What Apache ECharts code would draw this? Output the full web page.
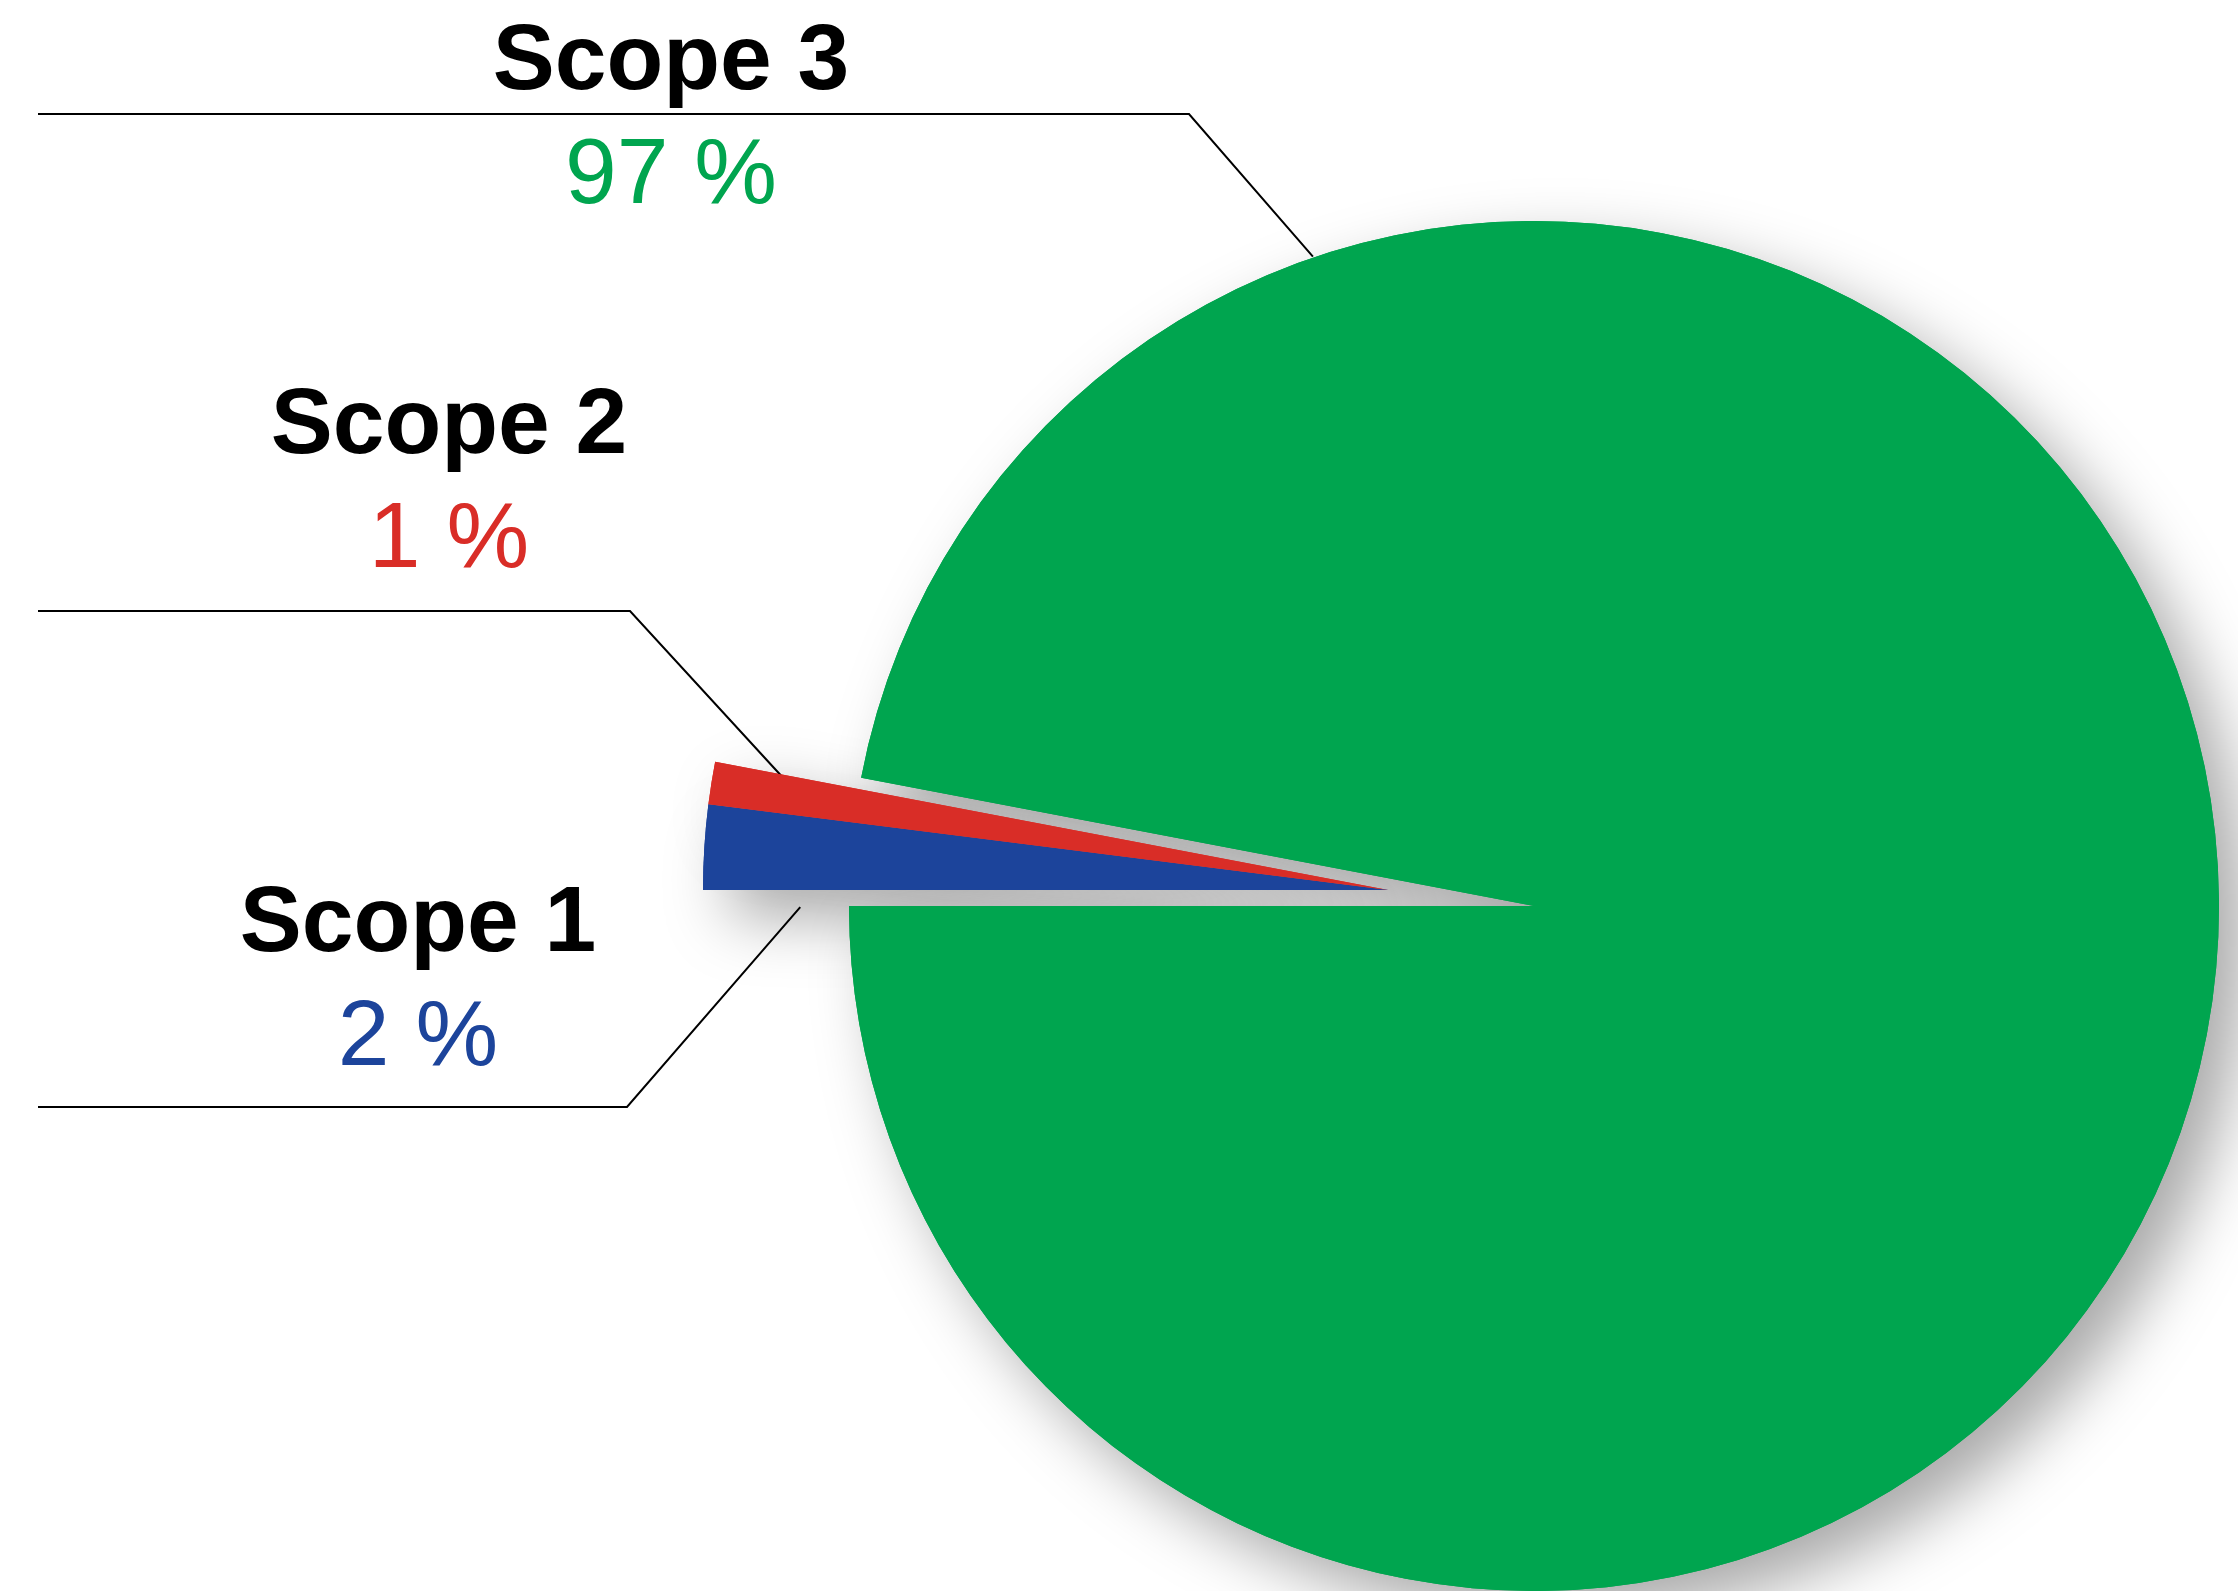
<!DOCTYPE html>
<html>
<head>
<meta charset="utf-8">
<title>Scope 1 / 2 / 3</title>
<script src="https://cdn.jsdelivr.net/npm/echarts@6/dist/echarts.min.js"></script>
<style>
  html, body { margin: 0; padding: 0; background: #fff; }
  #chart { width: 2238px; height: 1591px; }
</style>
</head>
<body>
<div id="chart"></div>
<script>
// 数据
const categories = ['Scope 1', 'Scope 2', 'Scope 3'];
const shares = [2, 1, 97];
const colors = ['#1c449b', '#d92d27', '#00a54f'];

const FONT = '"Liberation Sans", Arial, Helvetica, sans-serif';
const R = 685;
const mainCenter = [1534, 906];
const smallCenter = [1388, 890]; // 拉出来的两个小扇区
const clear = 'rgba(0,0,0,0)';

// 标签位置: 文字中心, 引导线 (锚点用极坐标, 拐点, 终点)
const labelPos = [
  { x: 418, y: 982, anchor: [smallCenter, 181.66, 588], elbow: [627, 1107], end: [38, 1107] },
  { x: 449, y: 484, anchor: [smallCenter, 169.3, 618], elbow: [630, 611], end: [38, 611] },
  { x: 671, y: 120, anchor: [mainCenter, 108.8, 686], elbow: [1189, 114], end: [38, 114] }
];

function polar (c, deg, d) {
  const a = deg * Math.PI / 180;
  return [c[0] + d * Math.cos(a), c[1] - d * Math.sin(a)];
}

const rich = {
  n: { fontFamily: FONT, fontSize: 93, fontWeight: 'bold', color: '#000', lineHeight: 114 }
};
categories.forEach((c, i) => {
  rich['v' + i] = { fontFamily: FONT, fontSize: 93, color: colors[i], lineHeight: 114 };
});

// 阴影: 所有阴影画在所有扇区下面
const shadow = { shadowBlur: 64, shadowColor: 'rgba(0,0,0,0.34)', shadowOffsetX: 27, shadowOffsetY: 27 };
const noLabel = { label: { show: false }, labelLine: { show: false } };

function shadowItem (i) {
  return Object.assign({
    name: categories[i],
    value: shares[i],
    itemStyle: Object.assign({ color: colors[i] }, shadow)
  }, noLabel);
}

function item (i) {
  return {
    name: categories[i],
    value: shares[i],
    itemStyle: { color: colors[i] },
    label: {
      show: true,
      position: 'outside',
      formatter: '{n|' + categories[i] + '}\n{v' + i + '|' + shares[i] + ' %}',
      rich: rich
    },
    labelLine: { show: true, smooth: false, lineStyle: { color: '#000', width: 2 } }
  };
}

function blank (name, value) {
  return Object.assign({ name: name, value: value, itemStyle: { color: clear } }, noLabel);
}

// dataIndex -> 类别下标
function layoutFor (map) {
  return function (params) {
    const p = labelPos[map[params.dataIndex]];
    if (!p) return {};
    return {
      x: p.x,
      y: p.y,
      align: 'center',
      verticalAlign: 'middle',
      labelLinePoints: [polar(p.anchor[0], p.anchor[1], p.anchor[2]), p.elbow, p.end]
    };
  };
}

const smallSum = shares[0] + shares[1];
const base = {
  type: 'pie',
  radius: R,
  startAngle: 180,
  clockwise: true,
  avoidLabelOverlap: false,
  silent: true,
  emphasis: { disabled: true },
  animation: false
};

const chart = echarts.init(document.getElementById('chart'));
chart.setOption({
  backgroundColor: '#fff',
  animation: false,
  series: [
    // 阴影层
    Object.assign({}, base, {
      z: 1,
      center: mainCenter,
      data: [blank('gap', smallSum), shadowItem(2)]
    }),
    Object.assign({}, base, {
      z: 1,
      center: smallCenter,
      data: [shadowItem(0), shadowItem(1), blank('rest', shares[2])]
    }),
    // Scope 3
    Object.assign({}, base, {
      z: 2,
      center: mainCenter,
      labelLayout: layoutFor({ 1: 2 }),
      data: [blank('gap', smallSum), item(2)]
    }),
    // Scope 1 + Scope 2, 整体拉出
    Object.assign({}, base, {
      z: 3,
      center: smallCenter,
      labelLayout: layoutFor({ 0: 0, 1: 1 }),
      data: [item(0), item(1), blank('rest', shares[2])]
    })
  ]
});
window.onresize = chart.resize;
</script>
</body>
</html>
